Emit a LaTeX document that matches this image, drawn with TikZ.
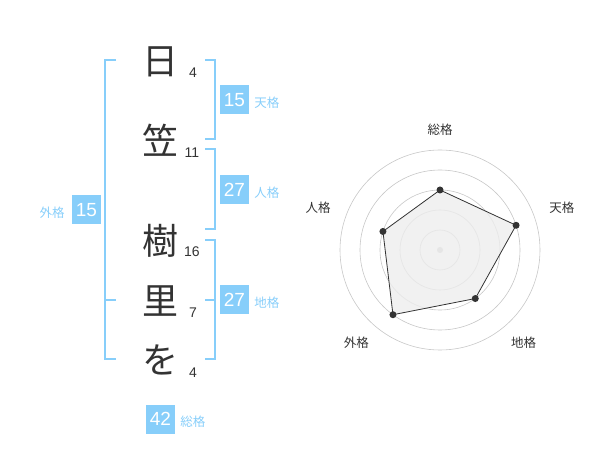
\documentclass[tikz,border=0pt]{standalone}
\usepackage{fontspec}
\setmainfont{Noto Sans CJK JP}
\newfontfamily\numfont{Liberation Sans}
\usetikzlibrary{positioning}
\definecolor{kakublue}{RGB}{135,206,250}
\definecolor{inkgray}{RGB}{51,51,51}

\begin{document}
\begin{tikzpicture}[x=1pt, y=-1pt,
  kanji/.style={text=inkgray, font=\fontsize{36}{36}\selectfont, inner sep=0pt},
  strokes/.style={text=inkgray, font=\numfont\fontsize{14}{14}\selectfont, inner sep=0pt},
  kakubox/.style={fill=kakublue, text=white, minimum width=29pt, minimum height=29pt, inner sep=0pt, font=\numfont\fontsize{19}{19}\selectfont},
  kakulbl/.style={text=kakublue, font=\fontsize{12.5}{12.5}\selectfont, inner sep=0pt},
  bracket/.style={draw=kakublue, line width=2pt},
  ring/.style={draw=black!22, line width=0.6pt},
  radarlbl/.style={text=inkgray, font=\fontsize{12.5}{12.5}\selectfont, inner sep=0pt}]

\useasboundingbox (0,0) rectangle (600,470);

% -------- name -----------
\node[kanji]  (c1) at (160, 62)  {日};
\node[kanji]  (c2) at (160, 140) {笠};
\node[kanji]  (c3) at (160, 241) {樹};
\node[kanji]  (c4) at (160, 301) {里};
\node[kanji]  (c5) at (160, 360) {を};

\node[strokes] (s1) at (193, 73)  {4};
\node[strokes] (s2) at (192, 153) {11};
\node[strokes] (s3) at (192, 252) {16};
\node[strokes] (s4) at (193, 313) {7};
\node[strokes] (s5) at (193, 373) {4};

% -------- brackets -----------
\draw[bracket] (116,60) -- (105,60) -- (105,359) -- (116,359);
\draw[bracket] (105,300) -- (116,300);
\draw[bracket] (205,60) -- (215,60) -- (215,139) -- (205,139);
\draw[bracket] (205,149) -- (215,149) -- (215,229) -- (205,229);
\draw[bracket] (205,240) -- (215,240) -- (215,359) -- (205,359);
\draw[bracket] (205,300) -- (215,300);

% -------- kaku boxes -----------
\node[kakubox] (gai)  at (86.5, 210)  {15};
\node[kakubox] (ten)  at (234.5, 100) {15};
\node[kakubox] (jin)  at (234.5, 190) {27};
\node[kakubox] (chi)  at (234.5, 300) {27};
\node[kakubox] (sou)  at (160.5, 419) {42};

\node[kakulbl, left=7pt of gai, yshift=-3pt]  (gail)  {外格};
\node[kakulbl, right=5pt of ten, yshift=-3pt] (tenl)  {天格};
\node[kakulbl, right=5pt of jin, yshift=-3pt] (jinl)  {人格};
\node[kakulbl, right=5pt of chi, yshift=-3pt] (chil)  {地格};
\node[kakulbl, right=5pt of sou, yshift=-3pt] (soul)  {総格};

% -------- radar chart -----------
\begin{scope}[shift={(440,250)}]
\foreach \r in {20,40,60,80,100}
  \draw[ring] (0,0) circle (\r);
\fill[black!22] (0,0) circle (3);

\coordinate (p1) at (-90:60);
\coordinate (p2) at (-18:80);
\coordinate (p3) at (54:60);
\coordinate (p4) at (126:80);
\coordinate (p5) at (198:60);
\draw[inkgray, line width=0.8pt, fill=black!7, fill opacity=0.8]
  (p1) -- (p2) -- (p3) -- (p4) -- (p5) -- cycle;
\foreach \p in {p1,p2,p3,p4,p5}
  \fill[inkgray] (\p) circle (3.5);

\node[radarlbl] (rsou) at (-90:120) {総格};
\node[radarlbl] (rten) at (-19:129) {天格};
\node[radarlbl] (rchi) at (48:125)  {地格};
\node[radarlbl] (rgai) at (132:125) {外格};
\node[radarlbl] (rjin) at (199:129) {人格};
\end{scope}

\end{tikzpicture}
\end{document}
